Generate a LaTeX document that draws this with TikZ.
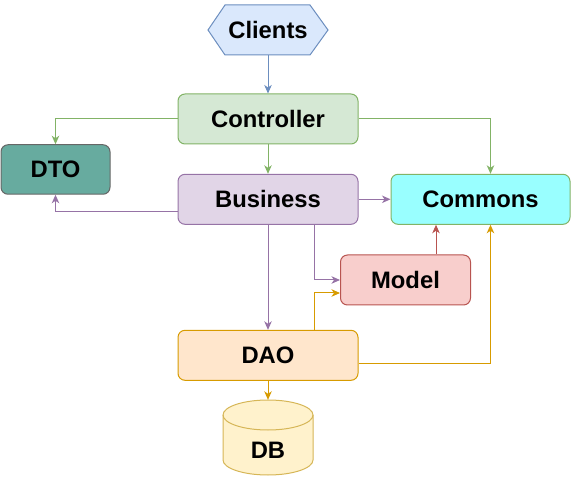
\documentclass[tikz,border=0pt]{standalone}
\usepackage{fontspec}
\setmainfont{Liberation Sans}
\usetikzlibrary{arrows.meta,calc}
\definecolor{clientsfill}{HTML}{DAE8FC}
\definecolor{clientsline}{HTML}{6C8EBF}
\definecolor{ctrlfill}{HTML}{D5E8D4}
\definecolor{ctrlline}{HTML}{82B366}
\definecolor{dtofill}{HTML}{67AB9F}
\definecolor{dtoline}{HTML}{666666}
\definecolor{busfill}{HTML}{E1D5E7}
\definecolor{busline}{HTML}{9673A6}
\definecolor{comfill}{HTML}{99FFFF}
\definecolor{comline}{HTML}{82B366}
\definecolor{modfill}{HTML}{F8CECC}
\definecolor{modline}{HTML}{B85450}
\definecolor{daofill}{HTML}{FFE6CC}
\definecolor{daoline}{HTML}{D79B00}
\definecolor{dbfill}{HTML}{FFF2CC}
\definecolor{dbline}{HTML}{D6B656}
\tikzset{
  lbl/.style={font=\fontsize{23.8}{28}\selectfont\bfseries, text=black, inner sep=0pt},
  box/.style={lbl, draw, line width=1pt, rounded corners=7pt, minimum height=50pt},
  arr/.style={line width=1pt, -{Stealth[length=8.5pt,width=7.5pt,inset=2.5pt]}},
}
\begin{document}
\begin{tikzpicture}[x=1pt,y=-1pt]
\useasboundingbox (0,0) rectangle (571,481);
% Clients hexagon
\coordinate (clc) at (268,30);
\draw[line width=1pt, draw=clientsline, fill=clientsfill]
  ($(clc)+(-60,0)$) -- ($(clc)+(-43,-25)$) -- ($(clc)+(42,-25)$) -- ($(clc)+(60,0)$)
  -- ($(clc)+(42,25)$) -- ($(clc)+(-43,25)$) -- cycle;
\node[lbl, minimum width=120pt, minimum height=50pt] (clients) at (clc) {Clients};
% boxes
\node[box, minimum width=180pt, fill=ctrlfill, draw=ctrlline] (controller) at (268,119) {Controller};
\node[box, minimum width=109pt, minimum height=49.5pt, fill=dtofill, draw=dtoline] (dto) at (55.5,169.5) {DTO};
\node[box, minimum width=180pt, fill=busfill, draw=busline] (business) at (268,199.3) {Business};
\node[box, minimum width=179pt, fill=comfill, draw=comline] (commons) at (480.5,199.3) {Commons};
\node[box, minimum width=130pt, fill=modfill, draw=modline] (model) at (405.5,280) {Model};
\node[box, minimum width=180pt, fill=daofill, draw=daoline] (dao) at (268,355.3) {DAO};
% DB cylinder
\coordinate (dbc) at (268,437.5);
\draw[line width=1pt, draw=dbline, fill=dbfill]
  ($(dbc)+(-45,-22.5)$) -- ($(dbc)+(-45,22.5)$)
  arc[start angle=180, end angle=360, x radius=45pt, y radius=15pt]
  -- ($(dbc)+(45,-22.5)$)
  arc[start angle=0, end angle=180, x radius=45pt, y radius=15pt] -- cycle;
\draw[line width=1pt, draw=dbline]
  ($(dbc)+(-45,-22.5)$) arc[start angle=180, end angle=360, x radius=45pt, y radius=15pt];
\node[inner sep=0pt, minimum width=90pt, minimum height=75pt] (db) at (dbc) {};
\node[lbl] (dblabel) at (268,450) {DB};
% connectors
\draw[arr, clientsline] (clients.south) -- (controller.north);
\draw[arr, ctrlline] (controller.west) -| (dto.north);
\draw[arr, ctrlline] (controller.east) -| ([xshift=10pt]commons.north);
\draw[arr, ctrlline] (controller.south) -- (business.north);
\draw[arr, busline] ([yshift=-12.5pt]business.west) -| (dto.south);
\draw[arr, busline] (business.east) -- (commons.west);
\draw[arr, busline] (business.south) -- (dao.north);
\draw[arr, busline] ([xshift=46pt]business.south) |- (model.west);
\draw[arr, modline] ([xshift=30.5pt]model.north) -- ([xshift=30.5pt]model.north |- commons.south);
\draw[arr, daoline] ([xshift=46pt]dao.north) |- ([yshift=-13pt]model.west);
\draw[arr, daoline] ([yshift=-8pt]dao.east) -| ([xshift=10pt]commons.south);
\draw[arr, daoline] (dao.south) -- (db.north);
\end{tikzpicture}
\end{document}
